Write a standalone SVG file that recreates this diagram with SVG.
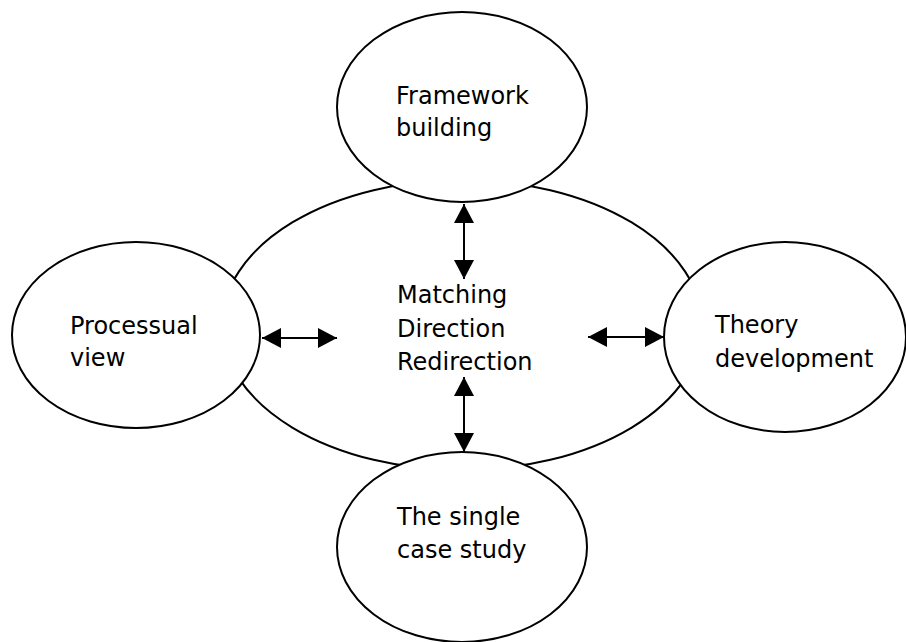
<svg xmlns="http://www.w3.org/2000/svg" width="906" height="642" viewBox="0 0 906 642">
  <style>
    .shape { fill: #ffffff; stroke: #000000; stroke-width: 2; }
    .label { font-family: "DejaVu Sans", "Liberation Sans", sans-serif; font-size: 24px; fill: #000000; }
    .link { stroke: #000000; stroke-width: 2; fill: none; marker-start: url(#head); marker-end: url(#head); }
  </style>
  <defs>
    <marker id="head" viewBox="0 0 19 20" refX="19" refY="10" markerWidth="19" markerHeight="20" markerUnits="userSpaceOnUse" orient="auto-start-reverse">
      <path d="M0,0 L19,10 L0,20 Z" fill="#000000"/>
    </marker>
  </defs>
  <rect width="906" height="642" fill="#ffffff"/>

  <!-- central hub -->
  <g id="hub">
    <ellipse class="shape" cx="462" cy="325" rx="240" ry="145"/>
  </g>

  <!-- satellites -->
  <g id="framework">
    <ellipse class="shape" cx="462" cy="107" rx="125" ry="95"/>
    <text class="label" x="396" y="104">Framework</text>
    <text class="label" x="396" y="136">building</text>
  </g>
  <g id="processual">
    <ellipse class="shape" cx="136" cy="335" rx="124" ry="93"/>
    <text class="label" x="70" y="334">Processual</text>
    <text class="label" x="70" y="366">view</text>
  </g>
  <g id="theory">
    <ellipse class="shape" cx="785" cy="337" rx="121" ry="95"/>
    <text class="label" x="715" y="333">Theory</text>
    <text class="label" x="715" y="367">development</text>
  </g>
  <g id="casestudy">
    <ellipse class="shape" cx="462" cy="547" rx="125" ry="95"/>
    <text class="label" x="397" y="525">The single</text>
    <text class="label" x="397" y="558">case study</text>
  </g>

  <!-- hub label -->
  <g id="hub-label">
    <text class="label" x="397" y="303">Matching</text>
    <text class="label" x="397" y="337">Direction</text>
    <text class="label" x="397" y="370">Redirection</text>
  </g>

  <!-- two-way connectors -->
  <g id="connectors">
    <line class="link" x1="464" y1="204" x2="464" y2="279"/>
    <line class="link" x1="464" y1="377" x2="464" y2="452"/>
    <line class="link" x1="262" y1="338" x2="337" y2="338"/>
    <line class="link" x1="588" y1="337" x2="664" y2="337"/>
  </g>
</svg>
